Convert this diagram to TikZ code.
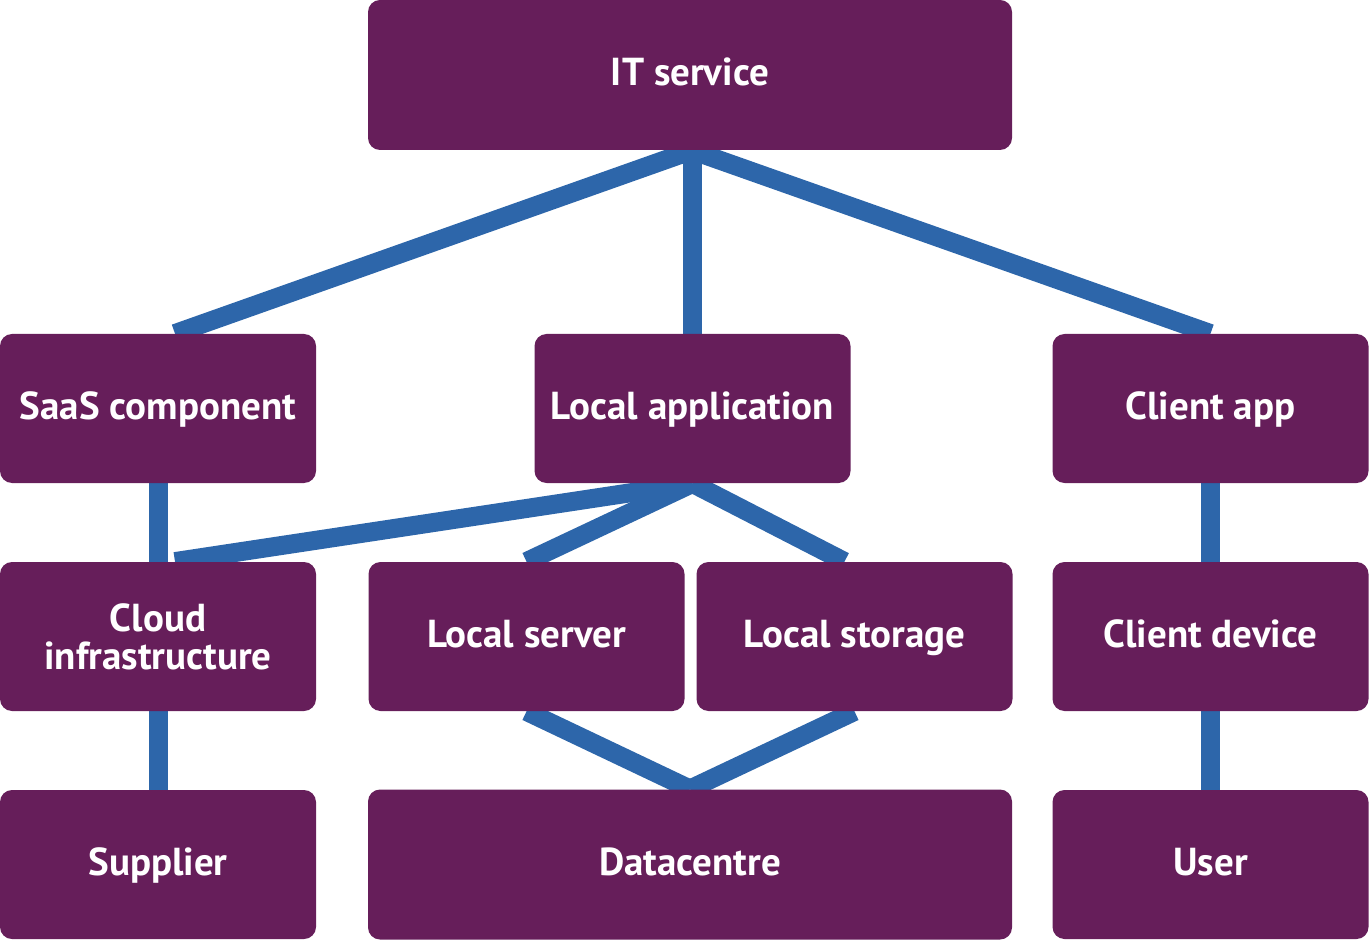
\documentclass[tikz,border=0pt]{standalone}
\usepackage{fontspec}
\setmainfont{PT Sans}
\usetikzlibrary{positioning, backgrounds}
\definecolor{boxpurple}{HTML}{661E5A}
\definecolor{linkblue}{HTML}{2D66AA}

\tikzset{
  unitbox/.style = {fill=boxpurple, rounded corners=6pt, text=white,
    font=\bfseries\fontsize{19.5}{21}\selectfont, align=center,
    minimum width=158pt, minimum height=74.5pt, inner sep=0pt,
    text height=11pt, text depth=0pt},
  twoline/.style = {text height=, text depth=},
  widebox/.style = {unitbox, minimum width=322pt, minimum height=75pt},
  link/.style = {draw=linkblue, line width=9.5pt}
}

\begin{document}
\begin{tikzpicture}[x=0.5pt, y=-0.5pt]
 \useasboundingbox (0,0) rectangle (1369,940);
 % top level
 \node[widebox] (itsvc) at (690,75) {IT service};
 % second row
 \node[unitbox] (saas) at (158,408.5) {SaaS component};
 \node[unitbox] (localapp) at (692.5,408.5) {Local application};
 \node[unitbox] (clientapp) at (1210.5,408.5) {Client app};
 % third row
 \node[unitbox, twoline] (cloud) at (158,636.5) {Cloud\\[-2pt]infrastructure};
 \node[unitbox] (localsrv) at (526.5,636.5) {Local server};
 \node[unitbox] (localstor) at (854.5,636.5) {Local storage};
 \node[unitbox] (clientdev) at (1210.5,636.5) {Client device};
 % bottom row
 \node[unitbox] (supplier) at (158,864.5) {Supplier};
 \node[widebox] (dc) at (690,864.5) {Datacentre};
 \node[unitbox] (user) at (1210.5,864.5) {User};

 \begin{scope}[on background layer]
  \draw[link] ([xshift=1pt]itsvc.south) -- ([xshift=8.5pt]saas.north);
  \draw[link] ([xshift=1pt]itsvc.south) -- ([xshift=-0.25pt]localapp.north);
  \draw[link] ([xshift=1pt]itsvc.south) -- (clientapp.north);
  \draw[link] (saas) -- (cloud);
  \draw[link] (cloud) -- (supplier);
  \draw[link] (localapp.south) -- ([xshift=8.5pt]cloud.north);
  \draw[link] (localapp.south) -- (localsrv.north);
  \draw[link] (localapp.south) -- ([xshift=-5pt]localstor.north);
  \draw[link] (localsrv.south) -- (dc.north);
  \draw[link] (localstor.south) -- (dc.north);
  \draw[link] (clientapp) -- (clientdev);
  \draw[link] (clientdev) -- (user);
 \end{scope}
\end{tikzpicture}
\end{document}
